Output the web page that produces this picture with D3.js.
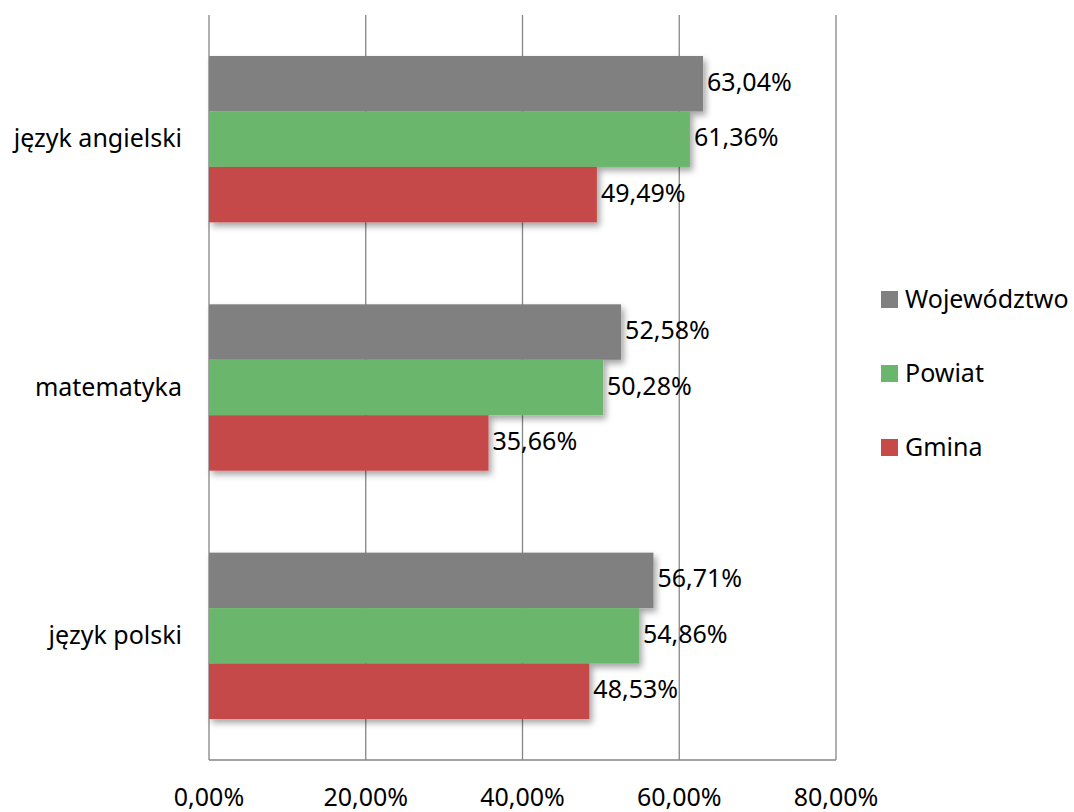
<!DOCTYPE html>
<html>
<head>
<meta charset="utf-8">
<script src="https://cdn.jsdelivr.net/npm/d3@7"></script>
<style>
  body { margin: 0; background: #fff; }
  svg { display: block; font-family: "Noto Sans", "Open Sans", sans-serif; }
</style>
</head>
<body>
<svg id="chart" width="1074" height="812"></svg>
<script>
const categories = ["język angielski", "matematyka", "język polski"];
const seriesNames = ["Województwo", "Powiat", "Gmina"];
const wojewodztwo = [63.04, 52.58, 56.71];
const powiat = [61.36, 50.28, 54.86];
const gmina = [49.49, 35.66, 48.53];
const xTicks = [0, 20, 40, 60, 80];
const colors = ["#808080", "#6bb66d", "#c64a48"];

const seriesValues = [wojewodztwo, powiat, gmina];

const svg = d3.select("#chart");
const pLeft = 209, pRight = 836, pTop = 15, pBottom = 760;
const fs = 25;

const x = d3.scaleLinear().domain([0, 80]).range([pLeft, pRight]);
const y = d3.scaleBand().domain(categories).range([pTop, pBottom]).paddingInner(0.33).paddingOuter(0.165);
const ySub = d3.scaleBand().domain(seriesNames).range([0, y.bandwidth()]);

const fmt = v => v.toFixed(2).replace(".", ",") + "%";

// shadow filter
const defs = svg.append("defs");
const f = defs.append("filter").attr("id", "shadow").attr("x", "-10%").attr("y", "-20%").attr("width", "130%").attr("height", "150%");
f.append("feDropShadow").attr("dx", 3).attr("dy", 4).attr("stdDeviation", 3).attr("flood-color", "#000").attr("flood-opacity", 0.35);

// gridlines
svg.append("g").selectAll("line").data(xTicks).join("line")
  .attr("x1", d => x(d)).attr("x2", d => x(d))
  .attr("y1", pTop).attr("y2", pBottom)
  .attr("stroke", "#868686").attr("stroke-width", 1.3);

// bottom axis line
svg.append("line").attr("x1", pLeft).attr("x2", pRight).attr("y1", pBottom).attr("y2", pBottom)
  .attr("stroke", "#868686").attr("stroke-width", 1.3);

// bars
const barG = svg.append("g").attr("filter", "url(#shadow)");
categories.forEach((c, ci) => {
  seriesNames.forEach((s, si) => {
    const v = seriesValues[si][ci];
    barG.append("rect")
      .attr("x", x(0)).attr("y", y(c) + ySub(s))
      .attr("width", x(v) - x(0)).attr("height", ySub.bandwidth())
      .attr("fill", colors[si]);
  });
});

// value labels
const lblG = svg.append("g");
categories.forEach((c, ci) => {
  seriesNames.forEach((s, si) => {
    const v = seriesValues[si][ci];
    lblG.append("text")
      .attr("x", x(v) + 4)
      .attr("y", y(c) + ySub(s) + ySub.bandwidth() / 2 + 7)
      .attr("font-size", fs).attr("fill", "#000")
      .text(fmt(v));
  });
});

// category labels
svg.append("g").selectAll("text").data(categories).join("text")
  .attr("x", pLeft - 27)
  .attr("y", d => y(d) + y.bandwidth() / 2 + 8)
  .attr("text-anchor", "end").attr("font-size", fs).attr("fill", "#000")
  .text(d => d);

// x tick labels
svg.append("g").selectAll("text").data(xTicks).join("text")
  .attr("x", d => x(d)).attr("y", 806)
  .attr("text-anchor", "middle").attr("font-size", fs).attr("fill", "#000")
  .text(d => d.toFixed(2).replace(".", ",") + "%");

// legend
const leg = svg.append("g");
seriesNames.forEach((s, i) => {
  const ly = 291 + i * 74;
  leg.append("rect").attr("x", 881).attr("y", ly).attr("width", 17).attr("height", 17).attr("fill", colors[i]);
  leg.append("text").attr("x", 905).attr("y", ly + 17).attr("font-size", fs).attr("fill", "#000").text(s);
});
</script>
</body>
</html>
